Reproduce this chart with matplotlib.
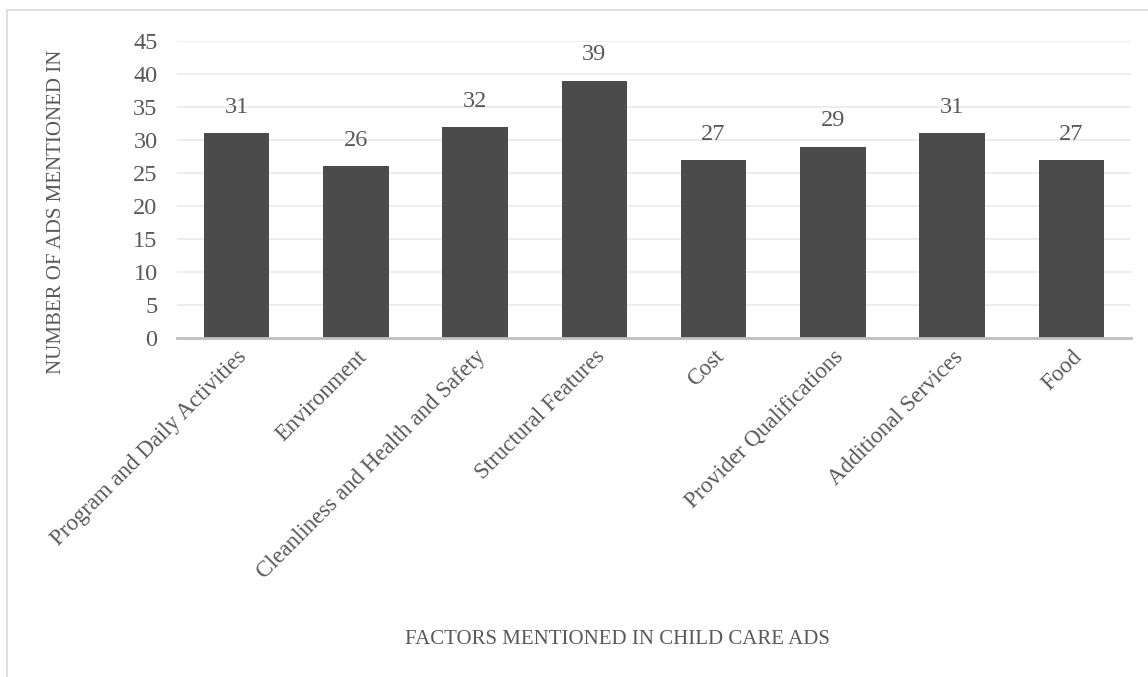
import matplotlib.pyplot as plt
import matplotlib.patches as patches

# data
categories = ["Program and Daily Activities", "Environment",
              "Cleanliness and Health and Safety", "Structural Features",
              "Cost", "Provider Qualifications", "Additional Services", "Food"]
counts = [31, 26, 32, 39, 27, 29, 31, 27]

plt.rcParams['font.family'] = ['Liberation Serif', 'DejaVu Serif']
text_col = '#595959'

fig = plt.figure(figsize=(11.48, 6.77), dpi=100)
W, H = 1148, 677
ax = fig.add_axes([177 / W, 1 - 338 / H, (1131 - 177) / W, (338 - 41) / H])

x = range(len(categories))
bars = ax.bar(x, counts, width=0.55, color='#4b4b4b', zorder=3)
for b, v in zip(bars, counts):
    ax.text(b.get_x() + b.get_width() / 2, v + 2.3, str(v),
            ha='center', va='bottom', fontsize=17.5, color=text_col)

ax.set_xlim(-0.5, len(categories) - 0.5)
ax.set_ylim(0, 45)
ax.set_yticks(range(0, 46, 5))
ax.tick_params(axis='y', length=0, labelsize=17.5, labelcolor=text_col, pad=14)
ax.tick_params(axis='x', length=0, labelsize=16.5, labelcolor=text_col, pad=6)
ax.set_xticks(list(x))
ax.set_xticklabels(categories, rotation=45, ha='right', rotation_mode='anchor')

ax.yaxis.grid(True, color='#ececec', linewidth=1.3, zorder=0)
for s in ['top', 'right', 'left']:
    ax.spines[s].set_visible(False)
ax.spines['bottom'].set_color('#bfbfbf')
ax.spines['bottom'].set_linewidth(2)
ax.spines['bottom'].set_zorder(4)

fig.text(57 / W, 1 - 212 / H, "NUMBER OF ADS MENTIONED IN", rotation=90,
         ha='center', va='center', fontsize=15, color=text_col)
fig.text(617 / W, 1 - 639 / H, "FACTORS MENTIONED IN CHILD CARE ADS",
         ha='center', va='center', fontsize=15, color=text_col)

# outer border of the chart area
fig.patches.append(patches.Rectangle((7 / W, -0.05), 1.1, 1 - 10 / H + 0.05,
                                     transform=fig.transFigure, fill=False,
                                     edgecolor='#d9d9d9', linewidth=1.2))

fig.savefig("out.png", dpi=100)
